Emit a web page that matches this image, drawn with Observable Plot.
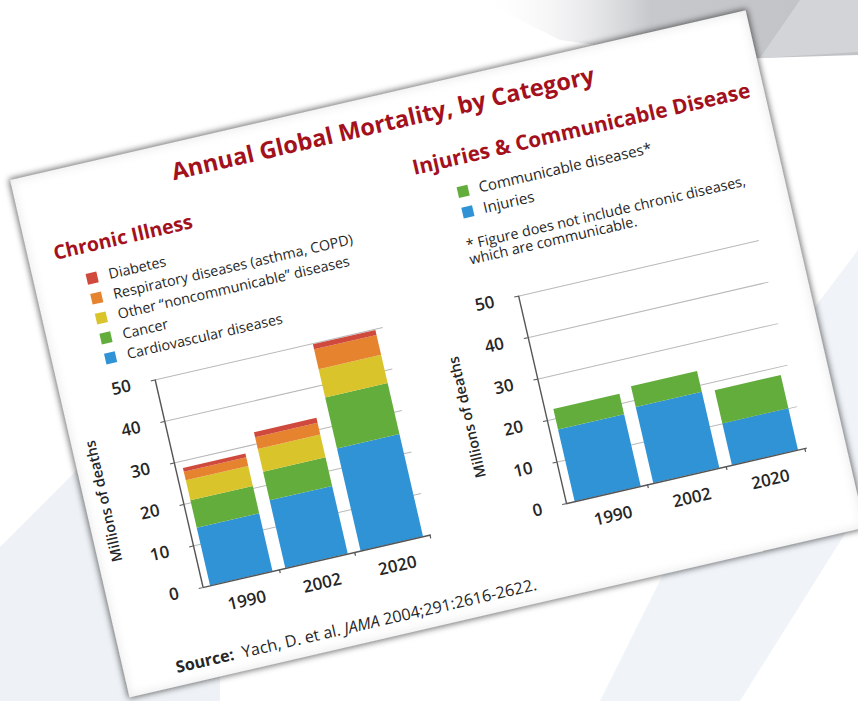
<!DOCTYPE html>
<html>
<head>
<meta charset="utf-8">
<script src="https://cdn.jsdelivr.net/npm/d3@7"></script>
<script src="https://cdn.jsdelivr.net/npm/@observablehq/plot@0.6"></script>
<style>
  html, body { margin: 0; padding: 0; background: #ffffff; }
  body { width: 858px; height: 701px; position: relative; overflow: hidden; font-family: "Open Sans", sans-serif; }
  #bg { position: absolute; left: 0; top: 0; }
  #card {
    position: absolute; left: 10px; top: 180px; width: 755px; height: 531px;
    background: #ffffff; transform-origin: 0 0; transform: rotate(-13deg);
    box-shadow: 0 0 6px 1px rgba(0,0,0,0.6), inset 0 0 12px rgba(0,0,0,0.10);
  }
  #card > * { position: absolute; }
  #overlay { left: 0; top: 0; }
</style>
</head>
<body>
<svg id="bg" width="858" height="701">
  <defs>
    <linearGradient id="topgray" x1="0" y1="0" x2="1" y2="0">
      <stop offset="0" stop-color="#ffffff" stop-opacity="0"/>
      <stop offset="0.45" stop-color="#c6c8cb"/>
      <stop offset="1" stop-color="#c0c2c5"/>
    </linearGradient>
  </defs>
  <polygon points="480,0 858,0 858,55 700,60 560,40" fill="url(#topgray)"/>
  <polygon points="800,0 858,0 858,52 760,58" fill="#d6d8db" opacity="0.8"/>
  <polygon points="0,547 220,327 220,701 0,701" fill="#eef2f6"/>
  <polygon points="760,380 858,250 858,513 740,701 600,701" fill="#f0f4f9"/>
</svg>
<div id="card"></div>
<script>
// ---------------- data ----------------
const years = ["1990", "2002", "2020"];
const yTicks = [0, 10, 20, 30, 40, 50];

// Chronic illness (millions of deaths), stacked bottom to top
const chronicCategories = [
  "Cardiovascular diseases",
  "Cancer",
  "Other \u201cnoncommunicable\u201d diseases",
  "Respiratory diseases (asthma, COPD)",
  "Diabetes"
];
const cardiovascular = [13.9, 16.3, 24.6];
const cancer = [6.6, 6.9, 12.3];
const otherNoncommunicable = [4.8, 5.5, 6.8];
const respiratory = [2.1, 2.8, 4.8];
const diabetes = [0.9, 1.2, 1.2];
const chronicColors = ["#2f93d6", "#63ad3c", "#d9c42c", "#e5832f", "#cf4a3c"];

// Injuries & communicable disease (millions of deaths)
const injuryCategories = ["Injuries", "Communicable diseases*"];
const injuries = [17.3, 18.3, 10.0];
const communicable = [4.9, 5.0, 8.0];
const injuryColors = ["#2f93d6", "#63ad3c"];

const titleText = "Annual Global Mortality, by Category";
const leftTitle = "Chronic Illness";
const rightTitle = "Injuries & Communicable Disease";
const footnote1 = "* Figure does not include chronic diseases,";
const footnote2 = "which are communicable.";
const yLabel = "Millions of deaths";

// ---------------- helpers ----------------
const RED = "#a3111d";
const INK = "#262626";
const card = document.getElementById("card");
const NS = "http://www.w3.org/2000/svg";
const overlay = document.createElementNS(NS, "svg");
overlay.setAttribute("id", "overlay");
overlay.setAttribute("width", 755);
overlay.setAttribute("height", 531);
overlay.style.fontFamily = "'Open Sans', sans-serif";
card.appendChild(overlay);

function addText(str, x, y, opts = {}) {
  const t = document.createElementNS(NS, "text");
  t.setAttribute("x", x);
  t.setAttribute("y", y);
  t.setAttribute("font-size", opts.size || 14);
  t.setAttribute("font-weight", opts.weight || 400);
  t.setAttribute("fill", opts.fill || INK);
  if (opts.anchor) t.setAttribute("text-anchor", opts.anchor);
  t.textContent = str;
  overlay.appendChild(t);
  return t;
}
function addSpan(parent, str, opts = {}) {
  const s = document.createElementNS(NS, "tspan");
  if (opts.weight) s.setAttribute("font-weight", opts.weight);
  if (opts.style) s.setAttribute("font-style", opts.style);
  s.textContent = str;
  parent.appendChild(s);
}
function swatch(cx, cy, color, size = 11) {
  const r = document.createElementNS(NS, "rect");
  r.setAttribute("x", cx - size / 2);
  r.setAttribute("y", cy - size / 2);
  r.setAttribute("width", size);
  r.setAttribute("height", size);
  r.setAttribute("fill", color);
  overlay.appendChild(r);
}

// titles
addText(titleText, 376, 37, {size: 23.5, weight: 700, fill: RED, anchor: "middle"});
addText(leftTitle, 26, 88, {size: 19.5, weight: 700, fill: RED});
addText(rightTitle, 395, 86, {size: 20.8, weight: 700, fill: RED});

// left legend (top = last stacked)
[...chronicCategories].reverse().forEach((c, i) => {
  const color = chronicColors[chronicCategories.indexOf(c)];
  const cy = 114 + 20.5 * i;
  swatch(58, cy, color);
  addText(c, 75, cy + 5, {size: 14.3});
});
// right legend
[...injuryCategories].reverse().forEach((c, i) => {
  const color = injuryColors[injuryCategories.indexOf(c)];
  const cy = 113 + 21 * i;
  swatch(439, cy, color);
  addText(c, 455, cy + 5, {size: 15});
});
addText(footnote1, 430, 171, {size: 14.4});
addText(footnote2, 430, 186, {size: 14.4});

// source
const src = addText("", 52, 518, {size: 16.2});
addSpan(src, "Source:", {weight: 700});
addSpan(src, "\u00a0 Yach, D. et al. ");
addSpan(src, "JAMA", {style: "italic"});
addSpan(src, " 2004;291:2616-2622.");

// ---------------- charts ----------------
function stackedChart({categories, series, colors, marginLeft, plotWidth, paddingInner, paddingOuter}) {
  const data = [];
  categories.forEach((c, i) => years.forEach((y, j) => data.push({year: y, category: c, value: series[i][j]})));
  const marginRight = 8, marginTop = 27, marginBottom = 45, plotHeight = 213;
  const step = plotWidth / (years.length - paddingInner + 2 * paddingOuter);
  const bw = step * (1 - paddingInner);
  const toAxis = step * paddingOuter + bw / 2;
  return Plot.plot({
    width: marginLeft + plotWidth + marginRight,
    height: marginTop + plotHeight + marginBottom,
    marginLeft, marginRight, marginTop, marginBottom,
    style: {fontFamily: "'Open Sans', sans-serif", background: "transparent", overflow: "visible", color: INK},
    x: {domain: years, paddingInner, paddingOuter, round: false, axis: null},
    y: {domain: [0, 50], axis: null},
    color: {domain: categories, range: colors},
    marks: [
      Plot.ruleY(yTicks.filter(d => d > 0), {stroke: "#b9b9b9", strokeWidth: 1}),
      Plot.barY(data, {x: "year", y: "value", fill: "category", order: categories}),
      Plot.ruleY([0], {stroke: "#555", strokeWidth: 1.4}),
      Plot.ruleX([years[0]], {y1: 0, y2: 50, dx: -toAxis, stroke: "#555", strokeWidth: 1.4}),
      Plot.ruleX(years, {y1: 0, y2: -0.9, dx: step / 2, stroke: "#555", strokeWidth: 1.2}),
      Plot.axisY({ticks: yTicks, tickSize: 4, tickPadding: 21, fontSize: 17, fontWeight: 600, fill: INK, stroke: "#555", label: null}),
      Plot.axisX({tickSize: 0, tickPadding: 16, fontSize: 17, fontWeight: 600, fill: INK, label: null}),
      Plot.text([yLabel], {frameAnchor: "left", textAnchor: "middle", rotate: -90, dx: -77, fontSize: 14.5, fontWeight: 600, fill: INK})
    ]
  });
}

const left = stackedChart({
  categories: chronicCategories,
  series: [cardiovascular, cancer, otherNoncommunicable, respiratory, diabetes],
  colors: chronicColors,
  marginLeft: 96, plotWidth: 234, paddingInner: 0.17, paddingOuter: 0.1
});
left.style.left = "0px";
left.style.top = "200px";
card.appendChild(left);

const right = stackedChart({
  categories: injuryCategories,
  series: [injuries, communicable],
  colors: injuryColors,
  marginLeft: 99, plotWidth: 247, paddingInner: 0.16, paddingOuter: 0.11
});
right.style.left = "370px";
right.style.top = "200px";
card.appendChild(right);
</script>
</body>
</html>
